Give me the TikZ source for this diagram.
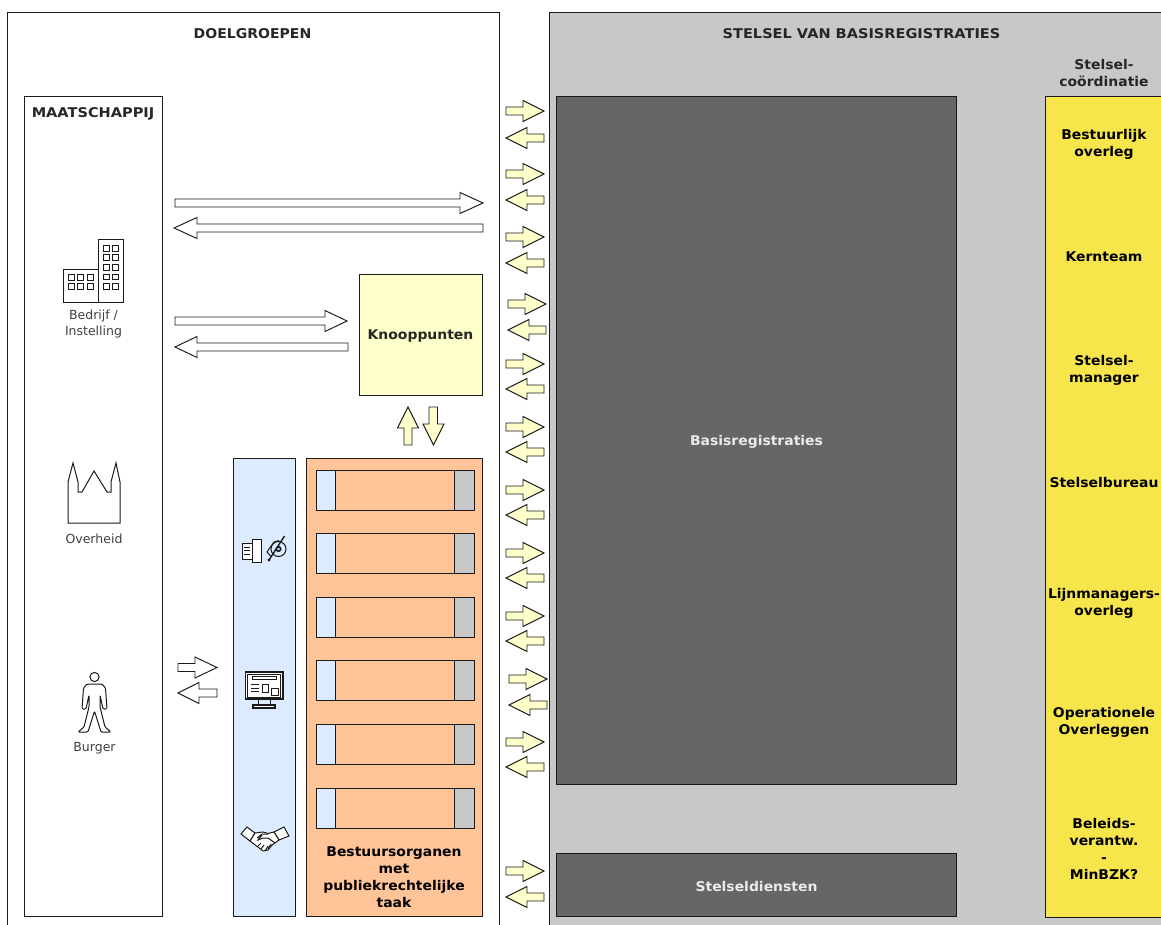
\documentclass[tikz,border=0pt]{standalone}
\usepackage{fontspec}
\setmainfont{DejaVu Sans}
\newfontfamily\wideb[FakeStretch=1.04]{DejaVu Sans Bold}
\newfontfamily\widec[FakeStretch=1.085]{DejaVu Sans Bold}
\definecolor{txt}{HTML}{262626}
\definecolor{litetxt}{HTML}{404040}
\definecolor{edge}{HTML}{1A1A1A}
\definecolor{panelgray}{HTML}{C8C8C8}
\definecolor{darkbox}{HTML}{666666}
\definecolor{softyellow}{HTML}{FFFFCC}
\definecolor{stelyellow}{HTML}{F7E64B}
\definecolor{softblue}{HTML}{DCEBFF}
\definecolor{softorange}{HTML}{FFC599}
\tikzset{
  x=1pt,y=-1pt,
  boxnode/.style={draw=edge,line width=0.95pt,anchor=north west,inner sep=0pt,outer sep=0pt},
  boxline/.style={draw=edge,line width=0.95pt},
  lab/.style={font=\fontsize{13.4}{17}\selectfont\wideb,align=center,text=txt},
  caplab/.style={font=\fontsize{13.4}{17}\selectfont\widec,align=center,text=txt},
  lablite/.style={font=\fontsize{12.5}{15.5}\selectfont,align=center,text=litetxt},
  ylab/.style={font=\fontsize{13.4}{17}\selectfont\wideb,align=center,text=black},
  wlab/.style={font=\fontsize{13.4}{17}\selectfont\wideb,align=center,text=white!92!black},
  icon/.style={draw=edge,line width=1pt,line join=miter},
  thinicon/.style={draw=edge,line width=0.8pt},
  blockarrow/.style={draw=edge,line width=0.95pt,line join=miter},
}
% \rarr{x1}{x2}{ycentre}{fill}{headlen}
\newcommand{\rarr}[5]{\draw[blockarrow,fill=#4] (#1,#3-4) -- (#2-#5,#3-4) -- (#2-#5,#3-10.5) -- (#2,#3) -- (#2-#5,#3+10.5) -- (#2-#5,#3+4) -- (#1,#3+4) -- cycle;}
\newcommand{\larr}[5]{\draw[blockarrow,fill=#4] (#2,#3-4) -- (#1+#5,#3-4) -- (#1+#5,#3-10.5) -- (#1,#3) -- (#1+#5,#3+10.5) -- (#1+#5,#3+4) -- (#2,#3+4) -- cycle;}
\newcommand{\regpair}[3]{\rarr{506+#3}{544+#3}{#1}{softyellow}{21}\larr{506+#3}{544+#3}{#2}{softyellow}{21}}
\newcommand{\orgrow}[1]{%
  \fill[softorange] (316,#1) rectangle (474,#1+40);
  \draw[boxline,fill=softblue] (316,#1) rectangle (335,#1+40);
  \draw[boxline,fill=panelgray] (454,#1) rectangle (474,#1+40);
  \draw[boxline] (316,#1) rectangle (474,#1+40);}
\begin{document}
\begin{tikzpicture}
\useasboundingbox (0,0) rectangle (1161,925);
\clip (0,0) rectangle (1161,925);
\fill[white] (0,0) rectangle (1161,925);
% panels
\node[boxnode,fill=white,minimum width=492pt,minimum height=930pt] (doel) at (7,12) {};
\node[boxnode,fill=panelgray,minimum width=630pt,minimum height=930pt] (stelsel) at (549,12) {};
\node[lab,font=\fontsize{13.5}{17}\selectfont\wideb] (doeltitle) at (252.5,34) {DOELGROEPEN};
\node[caplab] (steltitle) at (861.5,34) {STELSEL VAN BASISREGISTRATIES};
\node[lab] (coord) at (1104,73) {Stelsel-\\coördinatie};
% maatschappij
\node[boxnode,fill=white,minimum width=138pt,minimum height=820pt] (maat) at (24,96) {};
\node[caplab] (maattitle) at (93,113.5) {MAATSCHAPPIJ};
% knooppunten
\node[boxnode,fill=softyellow,minimum width=123pt,minimum height=121pt] (knoop) at (359,274) {};
\node[lab] (knooplabel) at (420.5,336.5) {Knooppunten};
% blue and orange
\node[boxnode,fill=softblue,minimum width=62pt,minimum height=458pt] (blue) at (233,458) {};
\node[boxnode,fill=softorange,minimum width=176pt,minimum height=458pt] (orange) at (306,458) {};
\foreach \y in {470,533,597,660,724,788} {\orgrow{\y}}
\node[lab,text=black] (bestuur) at (394,877) {Bestuursorganen\\met\\publiekrechtelijke\\taak};
% dark boxes
\node[boxnode,fill=darkbox,minimum width=400.5pt,minimum height=688pt] (basis) at (556,96) {};
\node[wlab] (basislabel) at (756.5,441.5) {Basisregistraties};
\node[boxnode,fill=darkbox,minimum width=400.5pt,minimum height=63pt] (dienst) at (556,853) {};
\node[wlab] (dienstlabel) at (756.5,886) {Stelseldiensten};
% yellow column
\node[boxnode,fill=stelyellow,minimum width=130pt,minimum height=821pt] (coordbox) at (1045,96) {};
\node[ylab] (y1) at (1104,144) {Bestuurlijk\\overleg};
\node[ylab] (y2) at (1104,257) {Kernteam};
\node[ylab] (y3) at (1104,370) {Stelsel-\\manager};
\node[ylab] (y4) at (1104,483) {Stelselbureau};
\node[ylab] (y5) at (1104,603) {Lijnmanagers-\\overleg};
\node[ylab] (y6) at (1104,722) {Operationele\\Overleggen};
\node[ylab] (y7) at (1104,849) {Beleids-\\verantw.\\-\\MinBZK?};
% big white arrows
\rarr{175}{483}{203}{white}{23}
\larr{174}{483}{228}{white}{23}
\rarr{175}{347}{321}{white}{22}
\larr{175}{348}{347}{white}{22}
\rarr{178}{217}{667.5}{white}{22}
\larr{178}{217}{693}{white}{21}
% knooppunt/bestuur vertical arrows
\draw[blockarrow,fill=softyellow] (404,445) -- (404,428) -- (397.5,428) -- (408,407) -- (418.5,428) -- (412,428) -- (412,445) -- cycle;
\draw[blockarrow,fill=softyellow] (429,407) -- (429,424) -- (423,424) -- (433.5,445) -- (444,424) -- (437.5,424) -- (437.5,407) -- cycle;
% register arrows
\regpair{111}{138}{0}
\regpair{174}{200}{0}
\regpair{237}{263}{0}
\regpair{304}{330}{2}
\regpair{364}{389}{0}
\regpair{427}{452}{0}
\regpair{490}{515}{0}
\regpair{553}{578}{0}
\regpair{616}{641}{0}
\regpair{679}{705}{3}
\regpair{742}{767}{0}
\regpair{871}{897}{0}
% building icon
\draw[icon] (63.5,302) rectangle (98,269);
\draw[icon] (98,302) rectangle (123,240);
\foreach \x in {68.5,77.5,87} \foreach \y in {274.5,283.5} {\draw[icon] (\x,\y) rectangle +(6,5.5);}
\foreach \x in {103,112} \foreach \y in {246,255,264.5,274,283.5} {\draw[icon] (\x,\y) rectangle +(6,5.5);}
\node[lablite] (bedrijf) at (93.5,324) {Bedrijf /\\Instelling};
% church icon
\draw[icon,fill=white] (68,523) -- (68,482) -- (73,463) -- (78,482) -- (78,492) -- (82,492) -- (94,471) -- (107,492) -- (111,492) -- (111,482) -- (116,463) -- (120,482) -- (120,523) -- cycle;
\node[lablite] (overheid) at (94,539) {Overheid};
% person icon
\draw[icon] (94.5,677) circle (4.6);
\draw[icon,line join=round,rounded corners=1.2pt] (87,684) -- (102,684) -- (105.5,688) -- (107,709) -- (103,709) -- (100,695) -- (100,707) -- (105,727) -- (111,732) -- (101,732) -- (94.5,711) -- (88,732) -- (78,732) -- (84,727) -- (89,707) -- (89,695) -- (86,709) -- (82,709) -- (83.5,688) -- cycle;
\node[lablite] (burger) at (94.5,748) {Burger};
% phone/document + headset icon
\draw[icon,fill=white] (242,543) rectangle (252,559);
\foreach \y in {547,550.5,554} {\draw[thinicon] (244,\y) -- (250,\y);}
\draw[icon,fill=white] (252,539) rectangle (261,562);
\draw[icon] (278.5,549) circle (7.5);
\draw[icon,line width=1.6pt] (278.5,549) circle (2.2);
\draw[icon,line join=round] (270.5,556) -- (267,552) -- (274,542) -- (279,540.5);
\draw[icon,line width=1.4pt] (284.5,536) -- (269,560);
\fill[edge] (269,560) circle (1.7);
% monitor icon
\draw[icon,line width=1.3pt,fill=white] (245.5,672) rectangle (283,699);
\draw[thinicon] (247.5,674) rectangle (280.5,697);
\draw[icon] (252,676.5) rectangle (276,679);
\foreach \y in {684,688,691.5} {\draw[thinicon] (251,\y) -- (259,\y);}
\draw[icon] (262,684) rectangle (268,692);
\draw[icon] (271,688) rectangle (278,695);
\draw[icon] (258,699) -- (258,705) (270,699) -- (270,705);
\draw[icon,line width=1.3pt,fill=white] (253,705) rectangle (275,708);
% handshake icon
\draw[icon,fill=white] (241,834) -- (247,827) -- (255,833) -- (250,841) -- cycle;
\draw[icon,fill=white] (274,832) -- (284,827) -- (289,836) -- (279,840) -- cycle;
\draw[icon,fill=white,line join=round] (255,833) -- (263,832) -- (268,833.5) -- (274,832) -- (279,840) -- (272,845) -- (268,850) -- (263,851) -- (258,847) -- (250,841) -- cycle;
\draw[thinicon,line width=1pt] (257,838) -- (262,834) -- (268,834) (262,835) -- (258,840) -- (263,838) -- (268,838) -- (275,843);
\draw[thinicon,line width=1pt] (258,846) -- (261,843) (261,849) -- (264,845) (265,851) -- (268,846) (268,849) -- (271,844);
\end{tikzpicture}
\end{document}
